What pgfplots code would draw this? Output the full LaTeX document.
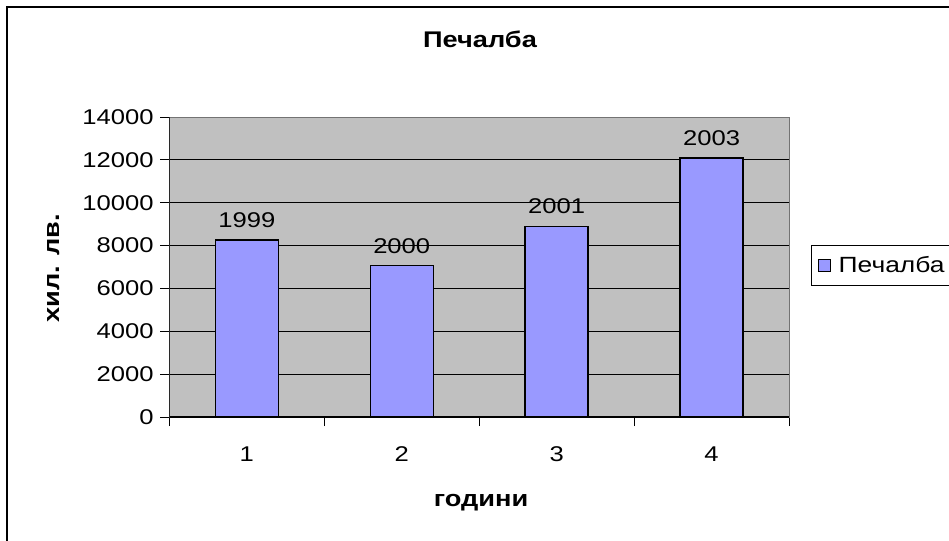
\documentclass[border=0pt]{standalone}
\usepackage{fontspec}
\setmainfont[FakeStretch=1.2]{Liberation Sans}
\usepackage{pgfplots}
\pgfplotsset{compat=1.18}
\definecolor{barfill}{HTML}{9999FF}
\definecolor{plotbg}{HTML}{C0C0C0}
\begin{document}
\begin{tikzpicture}
\path[use as bounding box] (0,0) rectangle (711.75pt,-405pt);
\draw[line width=2pt] (5.25pt,-500pt) -- (5.25pt,-5.25pt) -- (800pt,-5.25pt);
\node[font=\fontsize{17}{20}\selectfont\bfseries] at (360pt,-29.25pt) {Печалба};
\node[rotate=90, font=\fontsize{17}{20}\selectfont\bfseries] at (40.5pt,-201pt) {хил. лв.};
\node[font=\fontsize{17}{20}\selectfont\bfseries] at (360.75pt,-377.25pt) {години};
\begin{axis}[
  at={(127pt,-312.75pt)}, anchor=south west,
  width=464.8pt, height=225pt, scale only axis,
  xmin=0.5, xmax=4.5, ymin=0, ymax=14000,
  axis background/.style={fill=plotbg},
  axis line style={draw=gray!90!black, line width=0.75pt},
  ytick={0,2000,...,14000},
  xtick={0.5,1.5,2.5,3.5,4.5}, xticklabels={},
  extra x ticks={1,2,3,4}, extra x tick labels={1,2,3,4},
  extra x tick style={major tick length=0pt, xticklabel style={yshift=-18.5pt}},
  xtick pos=bottom, ytick pos=left,
  tick align=outside, major tick length=6.75pt,
  tick style={black, line width=0.75pt},
  ymajorgrids, grid style={black, line width=0.75pt},
  scaled y ticks=false,
  yticklabel style={/pgf/number format/1000 sep={}, xshift=-1.5pt},
  /pgf/number format/assume math mode=true,
  tick label style={font=\fontsize{16}{19}\selectfont},
  legend style={at={(1.0355,0.573)}, anchor=north west, draw=black, line width=0.75pt,
    font=\fontsize{16.5}{19}\selectfont, legend cell align=left, inner xsep=5pt, inner ysep=6pt},
  legend image code/.code={\draw[#1, line width=0.75pt] (0pt,-4.5pt) rectangle (9pt,4.5pt);
    \path[draw=none, fill=none] (0pt,0pt) -- (13pt,0pt);},
]
\addplot[ybar, bar width=47.25pt, fill=barfill, draw=black, line width=1.1pt,
  point meta=explicit symbolic, nodes near coords,
  nodes near coords style={font=\fontsize{16}{19}\selectfont, yshift=5.5pt}]
  table[meta=label] {
x y label
1 8270 1999
2 7060 2000
3 8900 2001
4 12080 2003
};
\addlegendentry{Печалба}
\draw[black, line width=0.9pt] (rel axis cs:0,1) -- (rel axis cs:0,0) -- (rel axis cs:1,0);
\end{axis}
\end{tikzpicture}
\end{document}
